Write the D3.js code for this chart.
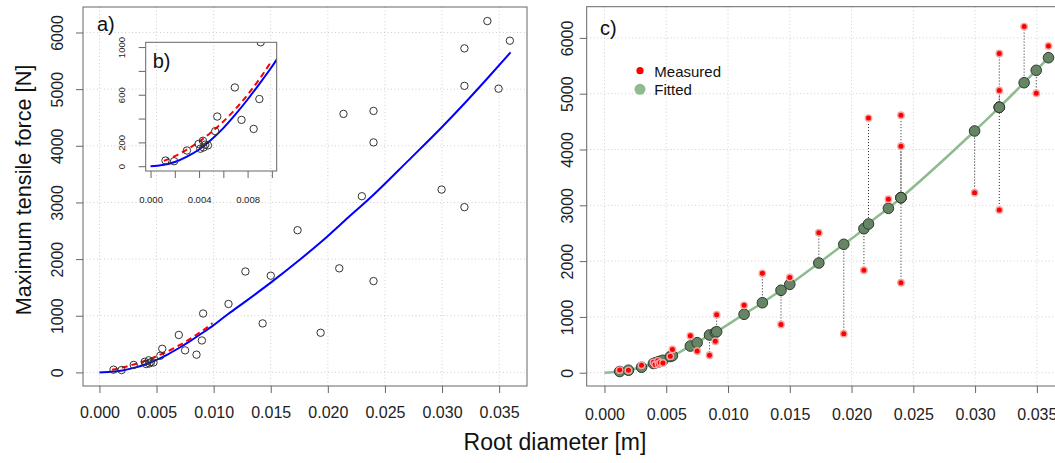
<!doctype html>
<html>
  <head>
    <script src="https://cdnjs.cloudflare.com/ajax/libs/d3/7.8.5/d3.min.js"></script>
  <style>
    body { margin: 0; background: #fff; }
    svg { font-family: "Liberation Sans", Arial, sans-serif; }
    path.domain { stroke: none; }
    .tick line { stroke: #666; }
    .tick text { fill: #222; }
  </style>
  </head>
  <body>
    <svg id="chart" width="1055" height="463"></svg>
    <script>
      // measured roots
      const diameter = [0.00123, 0.00194, 0.00300, 0.00396, 0.00410, 0.00432, 0.00437, 0.00451, 0.00473,
        0.00533, 0.00550, 0.00695, 0.00750, 0.00850, 0.00897, 0.00908, 0.01130, 0.01278, 0.01429, 0.01500,
        0.01735, 0.01937, 0.02100, 0.02137, 0.02298, 0.02400, 0.02400, 0.02400, 0.02996, 0.03196, 0.03196,
        0.03196, 0.03397, 0.03495, 0.03594];
      const force = [48, 42, 132, 187, 147, 214, 158, 181, 175,
        294, 417, 661, 389, 313, 564, 1040, 1208, 1781, 865, 1707,
        2510, 700, 1837, 4563, 3110, 4615, 4060, 1612, 3227, 5720, 5058,
        2917, 6202, 5008, 5855];
      // fitted values shown in panel c
      const fitted = [22, 45, 97, 165, 175, 190, 194, 205, 222,
        290, 305, 478, 538, 676, 720, 735, 1047, 1254, 1477, 1584,
        1966, 2301, 2581, 2665, 2946, 3136, 3136, 3136, 4332, 4756, 4756,
        4756, 5197, 5419, 5645];

      // fitted curve drawn in panels a and b
      const curveX = [0, 0.001, 0.002, 0.003, 0.004, 0.005, 0.006, 0.007, 0.008, 0.009, 0.010, 0.0113,
        0.0128, 0.015, 0.0174, 0.0194, 0.0214, 0.024, 0.027, 0.030, 0.032, 0.034, 0.036];
      const curveF = [0, 10, 35, 80, 140, 222, 320, 435, 560, 695, 835, 1035,
        1254, 1584, 1966, 2301, 2665, 3136, 3730, 4332, 4756, 5197, 5650];

      // red dashed curve for small roots
      const dashX = [0.0011, 0.002, 0.003, 0.004, 0.005, 0.006, 0.007, 0.008, 0.009, 0.0099];
      const dashF = [45, 85, 140, 205, 285, 375, 480, 600, 735, 870];

      const xTicks = [0, 0.005, 0.010, 0.015, 0.020, 0.025, 0.030, 0.035];
      const yTicks = [0, 1000, 2000, 3000, 4000, 5000, 6000];
      const insetXTicks = [0, 0.002, 0.004, 0.006, 0.008, 0.010];
      const insetXLabels = [0, 0.004, 0.008];
      const insetYTicks = [0, 200, 400, 600, 800, 1000];
      const insetYLabels = [0, 200, 600, 1000];

      const svg = d3.select("#chart");
      const fmt = d3.format(".3f");

      const idx = d3.range(diameter.length);
      const curveIdx = d3.range(curveX.length);
      const dashIdx = d3.range(dashX.length);

      // ---------- panel a ----------
      const xA = d3.scaleLinear().domain([-0.00144, 0.03744]).range([83, 527]);
      const yA = d3.scaleLinear().domain([-240, 6450]).range([386, 7]);

      svg.append("clipPath").attr("id", "clipA").append("rect")
        .attr("x", 83).attr("y", 7).attr("width", 444).attr("height", 379);
      svg.append("clipPath").attr("id", "clipB").append("rect")
        .attr("x", 145.7).attr("y", 42.3).attr("width", 131).attr("height", 128.7);

      function grid(g, x, y, x0, x1, y0, y1) {
        g.selectAll("line.gx").data(xTicks).enter().append("line")
          .attr("class", "gx")
          .attr("x1", d => x(d)).attr("x2", d => x(d))
          .attr("y1", y0).attr("y2", y1);
        g.selectAll("line.gy").data(yTicks).enter().append("line")
          .attr("class", "gy")
          .attr("x1", x0).attr("x2", x1)
          .attr("y1", d => y(d)).attr("y2", d => y(d));
        g.selectAll("line")
          .style("stroke", "#cfcfcf")
          .style("stroke-width", 1)
          .style("stroke-dasharray", "1,2.5");
      }

      const gA = svg.append("g");
      grid(gA, xA, yA, 83, 527, 7, 386);

      function xAxis(sel, scale, ticks, labels, ty, off, size, fs) {
        const g = sel.append("g").attr("transform", "translate(0," + ty + ")")
          .call(d3.axisBottom(scale).tickValues(ticks).tickSize(size)
            .tickFormat(d => labels.indexOf(d) >= 0 ? fmt(d) : ""));
        g.selectAll(".tick text").attr("y", off).attr("dy", 0).style("font-size", fs + "px");
        return g;
      }
      function yAxis(sel, scale, ticks, labels, tx, off, size, fs) {
        const g = sel.append("g").attr("transform", "translate(" + tx + ",0)")
          .call(d3.axisLeft(scale).tickValues(ticks).tickSize(size)
            .tickFormat(d => labels.indexOf(d) >= 0 ? d : ""));
        g.selectAll(".tick text")
          .attr("transform", "rotate(-90)")
          .attr("text-anchor", "middle")
          .attr("x", 0).attr("y", -off).attr("dy", 0)
          .style("font-size", fs + "px");
        return g;
      }

      xAxis(svg, xA, xTicks, xTicks, 386, 32.3, 7, 16);
      yAxis(svg, yA, yTicks, yTicks, 83, 20, 7, 16);

      svg.append("rect").attr("x", 83).attr("y", 7).attr("width", 444).attr("height", 379)
        .style("fill", "none").style("stroke", "#666").style("stroke-width", 1);

      const plotA = svg.append("g").attr("clip-path", "url(#clipA)");
      plotA.append("path")
        .datum(curveIdx)
        .attr("d", d3.line().x(i => xA(curveX[i])).y(i => yA(curveF[i])).curve(d3.curveMonotoneX))
        .style("fill", "none").style("stroke", "#0000ff").style("stroke-width", 2);
      plotA.append("path")
        .datum(dashIdx)
        .attr("d", d3.line().x(i => xA(dashX[i])).y(i => yA(dashF[i])).curve(d3.curveMonotoneX))
        .style("fill", "none").style("stroke", "#ff0000").style("stroke-width", 2)
        .style("stroke-dasharray", "6,4");
      plotA.selectAll("circle").data(idx).enter().append("circle")
        .attr("cx", i => xA(diameter[i])).attr("cy", i => yA(force[i])).attr("r", 3.7)
        .style("fill", "none").style("stroke", "#333").style("stroke-width", 1);

      svg.append("text").attr("x", 97).attr("y", 31).text("a)")
        .style("font-size", "20px").style("fill", "#111");

      // ---------- inset b ----------
      const xB = d3.scaleLinear().domain([-0.0004, 0.0104]).range([145.7, 276.7]);
      const yB = d3.scaleLinear().domain([-40, 1040]).range([171, 42.3]);

      xAxis(svg, xB, insetXTicks, insetXLabels, 171, 32.3, 7, 9.5);
      yAxis(svg, yB, insetYTicks, insetYLabels, 145.7, 20.7, 7, 9.5);

      const plotB = svg.append("g").attr("clip-path", "url(#clipB)");
      plotB.append("path")
        .datum(curveIdx)
        .attr("d", d3.line().x(i => xB(curveX[i])).y(i => yB(curveF[i])).curve(d3.curveMonotoneX))
        .style("fill", "none").style("stroke", "#0000ff").style("stroke-width", 2);
      plotB.append("path")
        .datum(dashIdx)
        .attr("d", d3.line().x(i => xB(dashX[i])).y(i => yB(dashF[i])).curve(d3.curveMonotoneX))
        .style("fill", "none").style("stroke", "#ff0000").style("stroke-width", 2)
        .style("stroke-dasharray", "6,4");
      plotB.selectAll("circle").data(idx).enter().append("circle")
        .attr("cx", i => xB(diameter[i])).attr("cy", i => yB(force[i])).attr("r", 3.7)
        .style("fill", "none").style("stroke", "#333").style("stroke-width", 1);

      svg.append("rect").attr("x", 145.7).attr("y", 42.3).attr("width", 131).attr("height", 128.7)
        .style("fill", "none").style("stroke", "#666").style("stroke-width", 1);
      svg.append("text").attr("x", 152.7).attr("y", 67.5).text("b)")
        .style("font-size", "20px").style("fill", "#111");

      // ---------- panel c ----------
      const xC = d3.scaleLinear().domain([-0.00144, 0.03744]).range([586.7, 1067]);
      const yC = d3.scaleLinear().domain([-238, 6559]).range([386, 6.7]);

      const gC = svg.append("g");
      grid(gC, xC, yC, 586.7, 1067, 6.7, 386);

      xAxis(svg, xC, xTicks, xTicks, 386, 34, 7, 16);
      yAxis(svg, yC, yTicks, yTicks, 586.7, 13.4, 7, 16);

      svg.append("rect").attr("x", 586.7).attr("y", 6.7).attr("width", 480.3).attr("height", 379.3)
        .style("fill", "none").style("stroke", "#666").style("stroke-width", 1);

      // green line through the fitted values, starting at the origin
      const fitLine = [[0, 0]].concat(idx.map(i => [diameter[i], fitted[i]]));
      svg.append("path")
        .datum(fitLine)
        .attr("d", d3.line().x(d => xC(d[0])).y(d => yC(d[1])).curve(d3.curveMonotoneX))
        .style("fill", "none").style("stroke", "#8fbc8f").style("stroke-width", 2.5);

      svg.selectAll("line.resid").data(idx).enter().append("line")
        .attr("class", "resid")
        .attr("x1", i => xC(diameter[i])).attr("x2", i => xC(diameter[i]))
        .attr("y1", i => yC(force[i])).attr("y2", i => yC(fitted[i]))
        .style("stroke", "#222").style("stroke-width", 1).style("stroke-dasharray", "1,2");

      svg.selectAll("circle.fit").data(idx).enter().append("circle")
        .attr("class", "fit")
        .attr("cx", i => xC(diameter[i])).attr("cy", i => yC(fitted[i])).attr("r", 5.3)
        .style("fill", "#658565").style("stroke", "#2e3a2e").style("stroke-width", 1);

      svg.selectAll("circle.meas").data(idx).enter().append("circle")
        .attr("class", "meas")
        .attr("cx", i => xC(diameter[i])).attr("cy", i => yC(force[i])).attr("r", 3.2)
        .style("fill", "#ff0000").style("stroke", "#f5a5a5").style("stroke-width", 1.4);

      svg.append("text").attr("x", 600).attr("y", 35).text("c)")
        .style("font-size", "20px").style("fill", "#111");

      // legend
      svg.append("circle").attr("cx", 640).attr("cy", 70.7).attr("r", 3.6).style("fill", "#ff0000");
      svg.append("circle").attr("cx", 640).attr("cy", 89.3).attr("r", 5.5).style("fill", "#8fbc8f");
      svg.append("text").attr("x", 654.3).attr("y", 76.5).text("Measured")
        .style("font-size", "15px").style("fill", "#111");
      svg.append("text").attr("x", 654.3).attr("y", 95).text("Fitted")
        .style("font-size", "15px").style("fill", "#111");

      // axis titles
      svg.append("text")
        .attr("transform", "translate(31,190) rotate(-90)")
        .attr("text-anchor", "middle")
        .text("Maximum tensile force [N]")
        .style("font-size", "21.7px").style("fill", "#111");
      svg.append("text")
        .attr("x", 555).attr("y", 450)
        .attr("text-anchor", "middle")
        .text("Root diameter [m]")
        .style("font-size", "23px").style("fill", "#111");
    </script>
  </body>
</html>
